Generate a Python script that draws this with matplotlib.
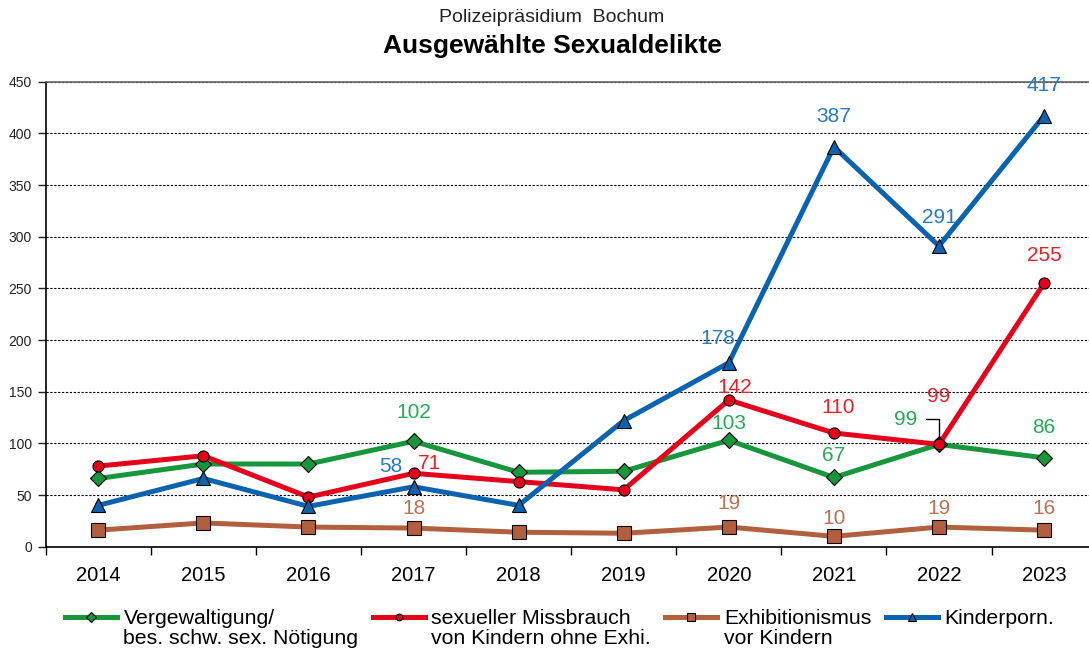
import matplotlib.pyplot as plt
from matplotlib.ticker import MultipleLocator, FixedLocator

plt.rcParams['font.family'] = ['Liberation Sans', 'DejaVu Sans']

years = ['2014', '2015', '2016', '2017', '2018', '2019', '2020', '2021', '2022', '2023']

vergewaltigung = [66, 80, 80, 102, 72, 73, 103, 67, 99, 86]
missbrauch = [78, 88, 48, 71, 63, 55, 142, 110, 99, 255]
exhibitionismus = [16, 23, 19, 18, 14, 13, 19, 10, 19, 16]
kinderporn = [40, 66, 39, 58, 40, 122, 178, 387, 291, 417]

series_names = ['Vergewaltigung/\nbes. schw. sex. Nötigung',
                'sexueller Missbrauch\nvon Kindern ohne Exhi.',
                'Exhibitionismus\nvor Kindern',
                'Kinderporn.']

# which years get a value label, per series
labelled = [
    [3, 6, 7, 8, 9],
    [3, 6, 7, 8, 9],
    [3, 6, 7, 8, 9],
    [3, 6, 7, 8, 9],
]

# label offsets in pixels (dx, dy) for the labelled points
offsets = [
    [(0, 29), (0, 17), (0, 22), (-33, 25), (0, 30)],
    [(16, 10), (6, 12), (4, 26), (0, 48), (0, 28)],
    [(0, 20), (0, 24), (0, 18), (0, 19), (0, 22)],
    [(-23, 20), (-11, 24), (0, 30), (0, 28), (0, 30)],
]

line_colors = ['#17963b', '#e5001b', '#b0603f', '#0a63ae']
text_colors = ['#2aa85a', '#e8202a', '#bb7256', '#2a78be']
markers = ['D', 'o', 's', '^']
msizes = [8, 8, 10, 10]

fig = plt.figure(figsize=(10.89, 6.53), dpi=100)
ax = fig.add_axes([0.042, 0.1628, 0.965, 0.7121])

x = list(range(len(years)))
all_series = [vergewaltigung, missbrauch, exhibitionismus, kinderporn]
zorders = [4, 5, 3, 6]

for i, vals in enumerate(all_series):
    ax.plot(x, vals, color=line_colors[i], lw=3.6, marker=markers[i],
            markersize=msizes[i], markerfacecolor=line_colors[i],
            markeredgecolor='black', markeredgewidth=0.8,
            label=series_names[i], zorder=zorders[i], clip_on=False)

    for k, idx in enumerate(labelled[i]):
        dx, dy = offsets[i][k]
        if i == 0 and idx == 8:
            # label moved aside with a leader line
            ax.annotate(str(vals[idx]), xy=(idx, vals[idx]), xytext=(dx, dy),
                        textcoords='offset pixels', ha='center', va='center',
                        fontsize=15, color=text_colors[i], zorder=8,
                        arrowprops=dict(arrowstyle='-', color='black', lw=1,
                                        connectionstyle='angle,angleA=0,angleB=90,rad=0',
                                        relpos=(1, 0.5), shrinkA=4, shrinkB=4))
        else:
            ax.annotate(str(vals[idx]), xy=(idx, vals[idx]), xytext=(dx, dy),
                        textcoords='offset pixels', ha='center', va='center',
                        fontsize=15, color=text_colors[i], zorder=8)

ax.set_xlim(-0.5, len(years) - 0.5)
ax.set_ylim(0, 450)

ax.yaxis.set_major_locator(MultipleLocator(50))
ax.tick_params(axis='y', labelsize=10, length=6, width=1, colors='#222222', pad=4)
ax.grid(axis='y', color='black', linestyle=(0, (2, 1.5)), linewidth=0.8)
ax.set_axisbelow(True)

ax.set_xticks(x)
ax.set_xticklabels(years)
ax.xaxis.set_minor_locator(FixedLocator([i - 0.5 for i in range(len(years) + 1)]))
ax.tick_params(axis='x', which='major', length=0, labelsize=14.5, pad=14)
ax.tick_params(axis='x', which='minor', length=6, width=1)

for s in ['left', 'bottom']:
    ax.spines[s].set_color('black')
    ax.spines[s].set_linewidth(1.2)
ax.spines['top'].set_color('#666666')
ax.spines['top'].set_linewidth(1.2)
ax.spines['right'].set_visible(False)

fig.text(0.507, 0.973, 'Polizeipräsidium  Bochum', ha='center', va='center',
         fontsize=14, color='#222222')
fig.text(0.507, 0.929, 'Ausgewählte Sexualdelikte', ha='center', va='center',
         fontsize=19, fontweight='bold', color='black')

leg = fig.legend(loc='upper left', bbox_to_anchor=(0.0597, 0.0674), ncol=4,
                 frameon=False, fontsize=15.3, handlelength=2.45, handletextpad=0.3,
                 columnspacing=0.68, borderpad=0, borderaxespad=0,
                 markerscale=0.6, handleheight=1.0)
for t in leg.get_texts():
    t.set_linespacing(1.05)
# keep handles and one-line entries on the first text line
leg._legend_handle_box.align = 'top'
for col in leg._legend_handle_box.get_children():
    col.align = 'left'
    for row in col.get_children():
        row.align = 'top'

fig.savefig('out.png', dpi=100)
